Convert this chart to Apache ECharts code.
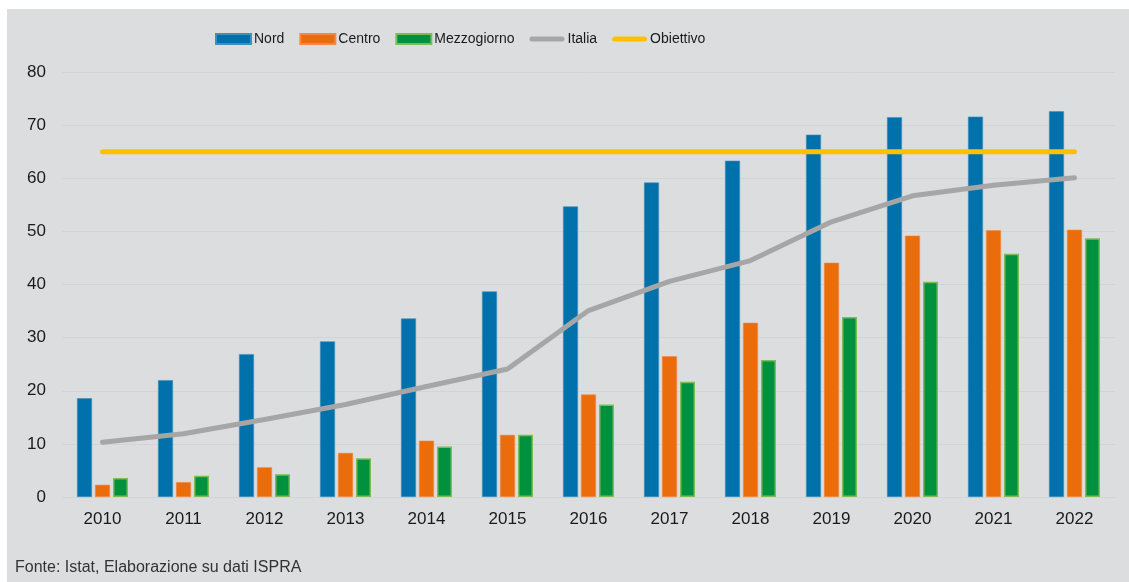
<!DOCTYPE html>
<html>
<head>
<meta charset="utf-8">
<script src="https://cdn.jsdelivr.net/npm/echarts@6/dist/echarts.min.js"></script>
<style>
  html, body { margin: 0; padding: 0; background: #ffffff; }
  #frame { position: absolute; left: 0; top: 0; width: 1129px; height: 582px; background: #ffffff; }
  #chart { position: absolute; left: 7px; top: 9px; width: 1122px; height: 573px; background: #dcdddf; }
</style>
</head>
<body>
<div id="frame"><div id="chart"></div></div>
<script>
// Raccolta differenziata (%) per ripartizione, 2010-2022
const years = ['2010','2011','2012','2013','2014','2015','2016','2017','2018','2019','2020','2021','2022'];
const nord = [18.6, 22.0, 26.9, 29.3, 33.6, 38.7, 54.7, 59.2, 63.3, 68.2, 71.5, 71.6, 72.6];
const centro = [2.3, 2.8, 5.6, 8.3, 10.6, 11.7, 19.3, 26.5, 32.8, 44.1, 49.2, 50.2, 50.3];
const mezzogiorno = [3.6, 4.0, 4.3, 7.3, 9.5, 11.7, 17.4, 21.7, 25.8, 33.9, 40.5, 45.8, 48.7];
const italia = [10.3, 11.9, 14.6, 17.4, 20.8, 24.1, 35.1, 40.6, 44.5, 51.8, 56.7, 58.7, 60.1];
const obiettivo = [65, 65, 65, 65, 65, 65, 65, 65, 65, 65, 65, 65, 65];
const yTicks = [0, 10, 20, 30, 40, 50, 60, 70, 80];

const chart = echarts.init(document.getElementById('chart'), null, { renderer: 'canvas' });
const font = '"Liberation Sans", Arial, sans-serif';
// thick rounded stroke used as legend key for the line series
const lineKey = 'path://M2.5,0H32.5A2.5,2.5,0,0,1,32.5,5H2.5A2.5,2.5,0,0,1,2.5,0Z';

chart.setOption({
  backgroundColor: 'transparent',
  animation: false,
  grid: { left: 55, right: 14, top: 63, bottom: 85, containLabel: false },
  legend: {
    left: 203,
    top: 18,
    itemWidth: 35,
    itemHeight: 10,
    itemGap: 15,
    symbolKeepAspect: true,
    textStyle: { fontFamily: font, fontSize: 14, color: '#1a1a1a', padding: [0, 0, 0, -2] },
    data: [
      { name: 'Nord', icon: 'rect' },
      { name: 'Centro', icon: 'rect' },
      { name: 'Mezzogiorno', icon: 'rect' },
      { name: 'Italia', icon: lineKey },
      { name: 'Obiettivo', icon: lineKey }
    ]
  },
  xAxis: {
    type: 'category',
    data: years,
    boundaryGap: true,
    axisLine: { show: true, lineStyle: { color: '#d3d4d6', width: 1 } },
    axisTick: { show: false },
    axisLabel: { fontFamily: font, fontSize: 17, color: '#1a1a1a', margin: 14 }
  },
  yAxis: {
    type: 'value',
    min: yTicks[0],
    max: yTicks[yTicks.length - 1],
    interval: yTicks[1] - yTicks[0],
    axisLine: { show: false },
    axisTick: { show: false },
    splitLine: { lineStyle: { color: '#d3d4d6', width: 1 } },
    axisLabel: { fontFamily: font, fontSize: 17, color: '#1a1a1a', margin: 16 }
  },
  series: [
    {
      name: 'Nord', type: 'bar', data: nord, barWidth: 15, barGap: '20%',
      itemStyle: { color: '#0071aa', borderColor: '#3f8fc0', borderWidth: 0.6 }
    },
    {
      name: 'Centro', type: 'bar', data: centro, barWidth: 15, barGap: '20%',
      itemStyle: { color: '#ea6c0a', borderColor: '#f08a45', borderWidth: 0.6 }
    },
    {
      name: 'Mezzogiorno', type: 'bar', data: mezzogiorno, barWidth: 15, barGap: '20%',
      itemStyle: { color: '#00913f', borderColor: '#7cbc55', borderWidth: 1.5 }
    },
    {
      name: 'Italia', type: 'line', data: italia, symbol: 'none', z: 5,
      lineStyle: { color: '#a6a6a6', width: 5, cap: 'round', join: 'round' },
      itemStyle: { color: '#a6a6a6' }
    },
    {
      name: 'Obiettivo', type: 'line', data: obiettivo, symbol: 'none', z: 5,
      lineStyle: { color: '#ffc000', width: 5, cap: 'round' },
      itemStyle: { color: '#ffc000' }
    }
  ],
  graphic: [
    {
      type: 'text', left: 8, top: 551,
      style: { text: 'Fonte: Istat, Elaborazione su dati ISPRA', fontFamily: font, fontSize: 16, fill: '#333333' }
    }
  ]
});
</script>
</body>
</html>
